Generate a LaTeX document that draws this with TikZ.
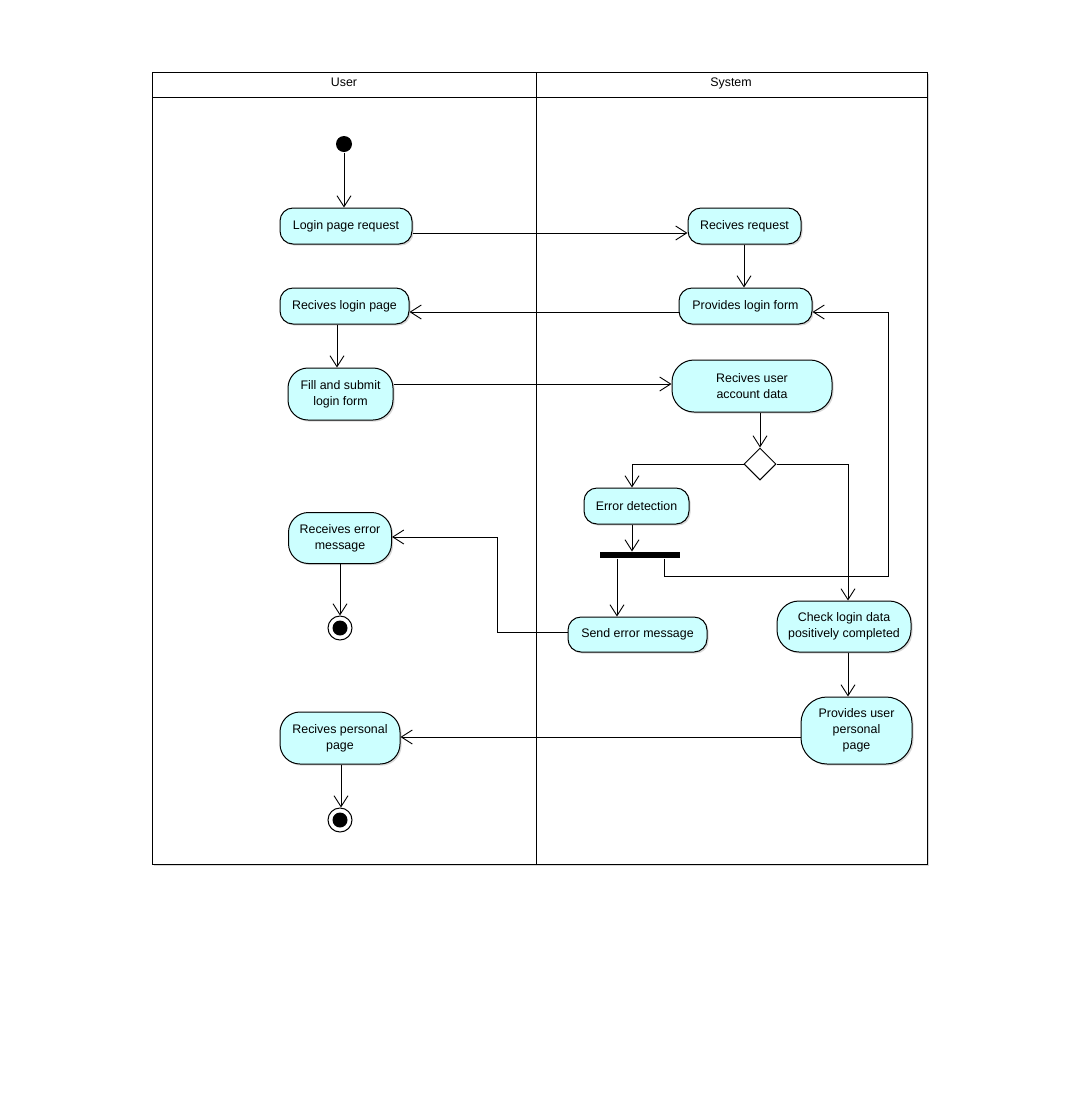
\documentclass[tikz,border=0pt]{standalone}
\usepackage{fontspec}
\setmainfont{Liberation Sans}
\usetikzlibrary{arrows.meta,shapes.geometric,shadows}
\definecolor{actfill}{HTML}{CCFFFF}
\begin{document}
\begin{tikzpicture}[x=1pt,y=-1pt,line width=1pt,
  font=\fontsize{12.4}{16}\selectfont,
  shade/.style={drop shadow={shadow xshift=1.6pt,shadow yshift=-1.6pt,opacity=0.3}},
  act/.style={rectangle,rounded corners=13pt,draw,fill=actfill,align=center,
    inner sep=0pt,shade},
  flow/.style={-{Straight Barb[length=11pt,width=14pt,line width=0.9pt]}},
  startnode/.style={circle,fill=black,minimum size=16pt,inner sep=0pt},
  endnode/.style={circle,draw,fill=white,minimum size=24pt,inner sep=0pt,
    path picture={\fill[black] (path picture bounding box.center) circle (7.5pt);}},
  decision/.style={diamond,draw,fill=white,minimum width=32pt,minimum height=32pt,
    inner sep=0pt,aspect=1},
  forkbar/.style={rectangle,fill=black,minimum width=80pt,minimum height=6pt,inner sep=0pt},
  lanetitle/.style={anchor=base}]
\useasboundingbox (0,0) rectangle (1080,1096);

% swimlane frame
\fill[black!30,opacity=0.5] (154,74) rectangle (929,866);
\draw[fill=white] (152,72) rectangle (927,864);
\draw (152,97) -- (927,97);
\draw (536,72) -- (536,864);
\node[lanetitle] (laneuser) at (344,86) {User};
\node[lanetitle] (lanesys) at (731,86) {System};

% nodes of the User lane
\node[startnode] (start) at (344,144) {};
\node[act,minimum width=132pt,minimum height=36pt] (lpr) at (346,226) {Login page request};
\node[act,minimum width=129pt,minimum height=36pt] (rlp) at (344.5,306) {Recives login page};
\node[act,rounded corners=20pt,minimum width=105pt,minimum height=52pt] (fslf) at (340.5,394) {Fill and submit\\login form};
\node[act,rounded corners=20pt,minimum width=103pt,minimum height=51pt] (rem) at (340,538) {Receives error\\message};
\node[endnode] (endA) at (340,628) {};
\node[act,rounded corners=20pt,minimum width=120pt,minimum height=52pt] (rpp) at (340,738) {Recives personal\\page};
\node[endnode] (endB) at (340,820) {};

% nodes of the System lane
\node[act,minimum width=113pt,minimum height=36pt] (rr) at (744.5,226) {Recives request};
\node[act,minimum width=133pt,minimum height=36pt] (plf) at (745.5,306) {Provides login form};
\node[act,rounded corners=22pt,minimum width=160pt,minimum height=52pt] (ruad) at (752,386) {Recives user\\account data};
\node[decision] (dec) at (760,464) {};
\node[act,minimum width=105pt,minimum height=36pt] (errdet) at (636.5,506) {Error detection};
\node[forkbar] (bar) at (640,555) {};
\node[act,minimum width=139pt,minimum height=35pt] (sem) at (637.5,634.5) {Send error message};
\node[act,rounded corners=22pt,minimum width=134pt,minimum height=51pt] (cld) at (844,626.5) {Check login data\\positively completed};
\node[act,rounded corners=26pt,minimum width=111pt,minimum height=67pt] (pupp) at (856.5,730.5) {Provides user\\personal\\page};

% bend points
\coordinate (decL) at (632,464);
\coordinate (decR) at (848,464);
\coordinate (loopA) at (664,576);
\coordinate (loopB) at (888,576);
\coordinate (loopC) at (888,312);
\coordinate (errA) at (497,632);
\coordinate (errB) at (497,537);

% control flow
\draw[flow] (start.south) -- (start.south |- lpr.north);
\draw[flow] (lpr.east |- 0,233) -- (rr.west |- 0,233);
\draw[flow] (rr.south -| 744,0) -- (plf.north -| 744,0);
\draw[flow] (plf.west |- 0,312) -- (rlp.east |- 0,312);
\draw[flow] (rlp.south -| 337,0) -- (fslf.north -| 337,0);
\draw[flow] (fslf.east |- 0,384) -- (ruad.west |- 0,384);
\draw[flow] (ruad.south -| dec.north) -- (dec.north);
\draw[flow] (dec.west) -- (decL) -- (errdet.north -| decL);
\draw[flow] (dec.east) -- (decR) -- (cld.north -| decR);
\draw[flow] (errdet.south -| 632,0) -- (bar.north -| 632,0);
\draw[flow] (bar.south -| 617,0) -- (sem.north -| 617,0);
\draw[flow] (bar.south -| loopA) -- (loopA) -- (loopB) -- (loopC) -- (plf.east |- loopC);
\draw[flow] (sem.west |- errA) -- (errA) -- (errB) -- (rem.east |- errB);
\draw[flow] (rem.south) -- (endA.north);
\draw[flow] (cld.south -| 848,0) -- (pupp.north -| 848,0);
\draw[flow] (pupp.west |- 0,737) -- (rpp.east |- 0,737);
\draw[flow] (rpp.south -| 341,0) -- (endB.north -| 341,0);
\end{tikzpicture}
\end{document}
